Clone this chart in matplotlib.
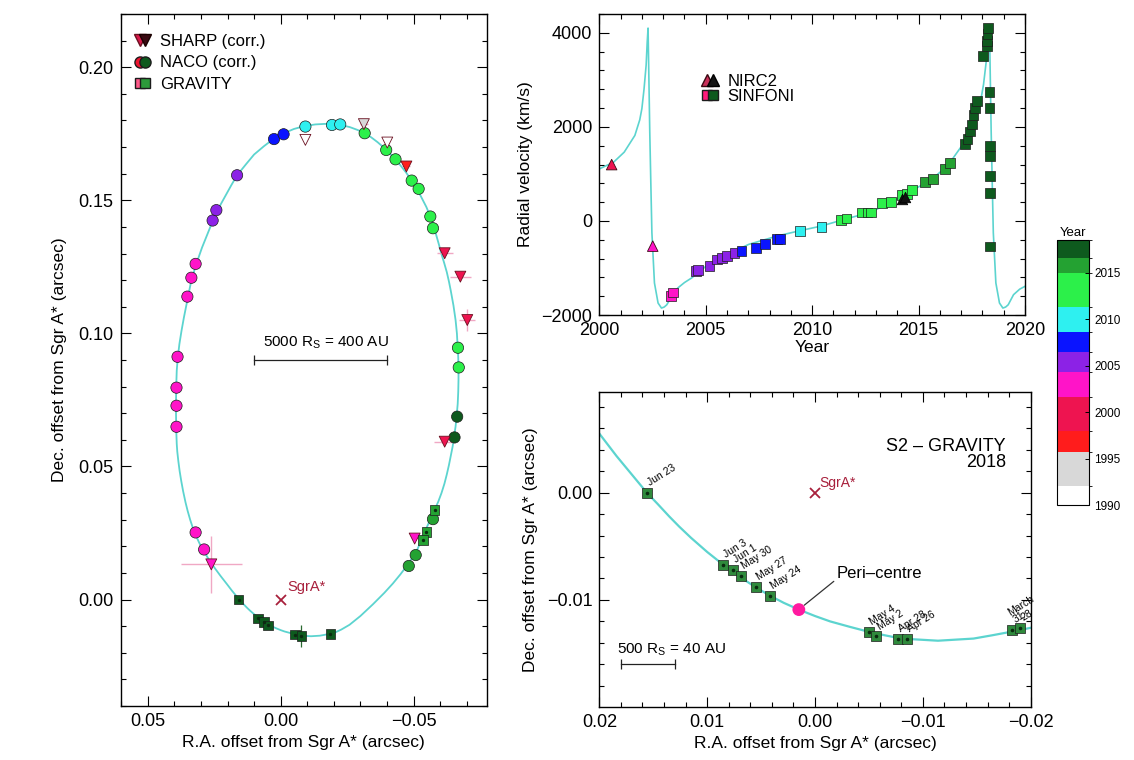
#!/usr/bin/env python3
"""S2 orbit around Sgr A*: sky orbit, radial velocity curve and 2018 GRAVITY zoom."""
import matplotlib
matplotlib.use("Agg")
import matplotlib.pyplot as plt
from matplotlib.colors import ListedColormap, BoundaryNorm
from matplotlib.cm import ScalarMappable
from matplotlib.legend_handler import HandlerTuple
from matplotlib.lines import Line2D
from matplotlib.ticker import MultipleLocator, FuncFormatter

plt.rcParams["font.family"] = ["Liberation Sans", "DejaVu Sans"]
plt.rcParams["mathtext.fontset"] = "custom"
plt.rcParams["mathtext.rm"] = "Liberation Sans"
plt.rcParams["axes.linewidth"] = 1.0

# ---------------- colour scale (year) ----------------
year_edges = [1990.0, 1992.0, 1995.7, 1998.0, 2001.6, 2004.3, 2006.5,
              2008.6, 2011.3, 2014.9, 2016.6, 2018.5]
year_colours = ["#ffffff", "#d8d8d8", "#ff1c1c", "#ee1450", "#ff14c8",
                "#8c22e6", "#0a14ff", "#2ef0f0", "#2cf04a", "#24a232", "#0e5a1e"]
cbar_ticks = [1990, 1995, 2000, 2005, 2010, 2015]

# ---------------- orbit model ----------------
orbit_ra = [0.0156, 0.0170, 0.0184, 0.0200, 0.0225, 0.0248, 0.0270, 0.0290,
            0.0305, 0.0317, 0.0330, 0.0340, 0.0350, 0.0358, 0.0367, 0.0374,
            0.0380, 0.0385, 0.0389, 0.0391, 0.0393, 0.0394, 0.0393, 0.0391,
            0.0387, 0.0381, 0.0373, 0.0364, 0.0354, 0.0345, 0.0336, 0.0323,
            0.0310, 0.0296, 0.0280, 0.0263, 0.0245, 0.0226, 0.0205, 0.0185,
            0.0164, 0.0130, 0.0100, 0.0062, 0.0025, -0.0012, -0.0050,
            -0.0090, -0.0130, -0.0165, -0.0200, -0.0230, -0.0260, -0.0290,
            -0.0316, -0.0340, -0.0365, -0.0397, -0.0425, -0.0450, -0.0472,
            -0.0493, -0.0513, -0.0530, -0.0548, -0.0563, -0.0575, -0.0585,
            -0.0595, -0.0604, -0.0615, -0.0625, -0.0633, -0.0640, -0.0650,
            -0.0658, -0.0663, -0.0666, -0.0668, -0.0669, -0.0669, -0.0668,
            -0.0666, -0.0662, -0.0658, -0.0652, -0.0647, -0.0640, -0.0633,
            -0.0625, -0.0616, -0.0605, -0.0593, -0.0579, -0.0565, -0.0550,
            -0.0533, -0.0515, -0.0496, -0.0475, -0.0450, -0.0422, -0.0390,
            -0.0347, -0.0300, -0.0259, -0.0228, -0.0200, -0.0180, -0.0164,
            -0.0147, -0.0130, -0.0114, -0.0097, -0.0080, -0.0065, -0.0051,
            -0.0032, -0.0014, 0.0000, 0.0015, 0.0029, 0.0042, 0.0055, 0.0069,
            0.0085, 0.0100, 0.0115, 0.0126, 0.0135, 0.0146, 0.0156]
orbit_dec = [0.0000, 0.0017, 0.0034, 0.0055, 0.0087, 0.0118, 0.0150, 0.0183,
             0.0210, 0.0236, 0.0268, 0.0298, 0.0333, 0.0365, 0.0407, 0.0445,
             0.0482, 0.0520, 0.0556, 0.0585, 0.0640, 0.0720, 0.0800, 0.0860,
             0.0910, 0.0960, 0.1010, 0.1060, 0.1110, 0.1155, 0.1200, 0.1242,
             0.1282, 0.1322, 0.1362, 0.1404, 0.1445, 0.1484, 0.1522, 0.1558,
             0.1594, 0.1636, 0.1672, 0.1704, 0.1732, 0.1752, 0.1768,
             0.1779, 0.1785, 0.1787, 0.1786, 0.1782, 0.1775, 0.1764,
             0.1752, 0.1737, 0.1718, 0.1690, 0.1661, 0.1632, 0.1604,
             0.1574, 0.1543, 0.1510, 0.1475, 0.1439, 0.1405, 0.1370,
             0.1335, 0.1301, 0.1265, 0.1230, 0.1195, 0.1160, 0.1105,
             0.1050, 0.1000, 0.0950, 0.0910, 0.0870, 0.0825, 0.0780,
             0.0735, 0.0690, 0.0650, 0.0610, 0.0575, 0.0540, 0.0505,
             0.0470, 0.0435, 0.0400, 0.0368, 0.0336, 0.0305, 0.0272,
             0.0230, 0.0190, 0.0158, 0.0127, 0.0094, 0.0060, 0.0025,
             -0.0018, -0.0062, -0.0095, -0.0113, -0.0126, -0.0130, -0.0133,
             -0.0136, -0.0137, -0.0138, -0.0137, -0.0136, -0.0133, -0.0130,
             -0.0125, -0.0120, -0.0115, -0.0109, -0.01027, -0.00959, -0.00882,
             -0.00790, -0.00673, -0.00553, -0.00421, -0.00316, -0.00224,
             -0.00105, 0.0000]

# ---------------- astrometry ----------------
naco_ra = [0.0320, 0.0288, 0.0392, 0.0392, 0.0392, 0.0388, 0.0351, 0.0336,
           0.0320, 0.0256, 0.0242, 0.0164, 0.0025, -0.0011, -0.0093, -0.0193,
           -0.0224, -0.0316, -0.0397, -0.0432, -0.0493, -0.0519, -0.0563,
           -0.0573, -0.0667, -0.0670, -0.0664, -0.0654, -0.0573, -0.0508,
           -0.0482]
naco_dec = [0.0252, 0.0188, 0.0649, 0.0728, 0.0796, 0.0912, 0.1138, 0.1209,
            0.1261, 0.1424, 0.1463, 0.1594, 0.1730, 0.1748, 0.1777, 0.1783,
            0.1785, 0.1752, 0.1689, 0.1654, 0.1574, 0.1543, 0.1439, 0.1395,
            0.0946, 0.0872, 0.0687, 0.0609, 0.0302, 0.0167, 0.0126]
naco_year = [2002.2, 2002.4, 2003.3, 2003.4, 2003.5, 2003.7, 2004.0, 2004.1,
             2004.2, 2005.2, 2005.3, 2006.2, 2007.2, 2007.5, 2009.2, 2010.2,
             2010.4, 2011.4, 2011.6, 2011.9, 2012.3, 2012.5, 2013.3, 2013.5,
             2014.5, 2014.7, 2017.0, 2017.2, 2015.5, 2015.6, 2015.7]

sharp_ra = [0.0261, -0.0093, -0.0313, -0.0401, -0.0473, -0.0617, -0.0676,
            -0.0702, -0.0617, -0.0504]
sharp_dec = [0.0132, 0.1727, 0.1786, 0.1717, 0.1627, 0.1301, 0.1213, 0.1050,
             0.0593, 0.0229]
sharp_year = [2002.0, 1990.5, 1993.0, 1991.0, 1996.5, 1998.5, 1999.0, 1999.5,
              2000.5, 2001.8]
sharp_xerr = [0.0115, 0.0, 0.0015, 0.0, 0.0015, 0.003, 0.004, 0.003, 0.004, 0.0]
sharp_yerr = [0.0107, 0.0, 0.0, 0.0, 0.0015, 0.0, 0.0, 0.004, 0.0, 0.0]

grav_ra = [0.0158, 0.0085, 0.0062, 0.0048, -0.0053, -0.0078, -0.0187,
           -0.0579, -0.0548, -0.0535]
grav_dec = [0.0000, -0.0071, -0.0084, -0.0097, -0.0132, -0.0137, -0.0130,
            0.0336, 0.0254, 0.0223]
grav_year = [2018.3, 2018.3, 2018.3, 2018.3, 2018.3, 2018.3, 2018.3,
             2015.8, 2015.8, 2015.8]
grav_yerr = [0.0, 0.0, 0.0, 0.0, 0.0, 0.004, 0.0, 0.0, 0.0, 0.0]

sgra_ra = [0.0]
sgra_dec = [0.0]

# 2018 GRAVITY epochs (lower right panel)
g18_ra = [0.0156, 0.0085, 0.0076, 0.00685, 0.00546, 0.0042, -0.0050,
          -0.0057, -0.0077, -0.0085, -0.0183, -0.0190]
g18_dec = [0.0000, -0.0067, -0.0072, -0.0078, -0.0088, -0.0096, -0.0130,
           -0.0134, -0.0136, -0.0136, -0.0128, -0.0126]
g18_label = ["Jun 23", "Jun 3", "Jun 1", "May 30", "May 27", "May 24",
             "May 4", "May 2", "Apr 28", "Apr 26", "March\n31", "28"]
peri_ra = [0.0015]
peri_dec = [-0.0109]

# scale bars
bar_big_ra = [0.010, -0.040]
bar_big_dec = [0.090, 0.090]
bar_small_ra = [0.0180, 0.0130]
bar_small_dec = [-0.0160, -0.0160]

# ---------------- radial velocity ----------------
rv_model_year = [2000.00, 2000.67, 2001.17, 2001.67, 2001.90, 2002.00, 2002.10,
                 2002.20, 2002.25, 2002.29, 2002.33, 2002.37, 2002.42, 2002.47,
                 2002.59, 2002.76, 2002.92, 2003.05, 2003.17, 2003.30, 2003.42,
                 2003.70, 2004.00, 2004.34, 2005.01, 2006.01, 2007.02, 2008.35,
                 2009.36, 2010.44, 2011.53, 2012.70, 2013.70, 2014.37, 2015.54,
                 2016.37, 2017.04, 2017.54, 2017.88, 2018.05, 2018.18, 2018.27,
                 2018.33, 2018.37, 2018.41, 2018.46, 2018.51, 2018.63, 2018.80,
                 2018.96, 2019.09, 2019.21, 2019.46, 2019.75, 2020.00]
rv_model_v = [1106, 1249, 1463, 1818, 2150, 2389, 2800,
              3315, 3800, 4100, 3000, 1890, 800, -248,
              -1318, -1745, -1852, -1830, -1782, -1680, -1568,
              -1420, -1310, -1211, -963, -712, -498, -321,
              -214, -107, 36, 180, 393, 571, 856,
              1176, 1604, 2032, 2460, 2900, 3400, 3900,
              4120, 3000, 1890, 800, -248, -1318, -1745,
              -1852, -1830, -1782, -1568, -1450, -1390]

nirc2_year = [2000.58, 2002.51]
nirc2_v = [1198, -535]
nirc2_black_year = [2014.22, 2014.36]
nirc2_black_v = [470, 515]

sinfoni_year = [2003.35, 2003.45, 2004.55, 2004.65, 2005.18, 2005.51, 2005.76,
                2006.00, 2006.35, 2006.68, 2007.35, 2007.77, 2008.35, 2008.50,
                2009.44, 2010.44, 2011.36, 2011.61, 2012.36, 2012.60, 2012.75,
                2013.28, 2013.70, 2014.21, 2014.44, 2014.68, 2015.30, 2015.69,
                2016.24, 2016.48, 2017.18, 2017.30, 2017.40, 2017.50, 2017.58,
                2017.65, 2017.73, 2018.04, 2018.20, 2018.22, 2018.24, 2018.25,
                2018.33, 2018.33, 2018.34, 2018.34, 2018.35, 2018.35, 2018.36]
sinfoni_v = [-1600, -1520, -1060, -1040, -963, -819, -783,
             -748, -690, -642, -569, -498, -376, -391,
             -214, -128, 21, 51, 180, 180, 180,
             379, 406, 543, 580, 650, 830, 900,
             1110, 1240, 1640, 1750, 1900, 2050, 2250,
             2400, 2550, 3504, 3717, 3823, 3966, 4109,
             2737, 2404, 1586, 1373, 947, 593, -543]

ORBIT_C = "#5cd4cf"
SGRA_C = "#a8203c"
EDGE_C = "#1c1c1c"

cmap = ListedColormap(year_colours)
norm = BoundaryNorm(year_edges, cmap.N)


def _fmt(decimals):
    def f(v, _pos):
        if abs(v) < 1e-12:
            v = 0.0
        return f"{v:.{decimals}f}".replace("-", "\u2212")
    return FuncFormatter(f)


def _ticks(ax, xmaj, xmin, ymaj, ymin):
    ax.xaxis.set_major_locator(MultipleLocator(xmaj))
    ax.xaxis.set_minor_locator(MultipleLocator(xmin))
    ax.yaxis.set_major_locator(MultipleLocator(ymaj))
    ax.yaxis.set_minor_locator(MultipleLocator(ymin))
    ax.tick_params(which="both", direction="in", top=True, right=True,
                   width=0.8, labelsize=13, pad=5)
    ax.tick_params(which="major", length=7)
    ax.tick_params(which="minor", length=3.5)


fig = plt.figure(figsize=(11.34, 7.60), dpi=100)

# ================= left: full orbit on the sky =================
ax = fig.add_axes([0.1064, 0.0711, 0.3230, 0.9105])
ax.plot(orbit_ra, orbit_dec, color=ORBIT_C, lw=1.3, zorder=1)
ax.errorbar(sharp_ra, sharp_dec, xerr=sharp_xerr, yerr=sharp_yerr, fmt="none",
            ecolor="#f0a8c4", elinewidth=1.0, zorder=2)
ax.errorbar(grav_ra, grav_dec, yerr=grav_yerr, fmt="none", ecolor="#2a6a30",
            elinewidth=0.9, zorder=2)
ax.scatter(naco_ra, naco_dec, c=naco_year, cmap=cmap, norm=norm, marker="o",
           s=66, edgecolors=EDGE_C, linewidths=0.5, zorder=3)
ax.scatter(sharp_ra, sharp_dec, c=sharp_year, cmap=cmap, norm=norm, marker="v",
           s=62, edgecolors="#6a1020", linewidths=0.6, zorder=4)
ax.scatter(grav_ra, grav_dec, c=grav_year, cmap=cmap, norm=norm, marker="s",
           s=48, edgecolors=EDGE_C, linewidths=0.5, zorder=4)
ax.scatter(grav_ra, grav_dec, c="#0b2a10", marker=".", s=8, zorder=5)
ax.plot(sgra_ra, sgra_dec, ls="none", marker="x", ms=7, mew=1.3, color=SGRA_C,
        zorder=5)
ax.annotate("SgrA*", (sgra_ra[0], sgra_dec[0]), xytext=(5, 4),
            textcoords="offset points", color=SGRA_C, fontsize=10.5,
            ha="left", va="bottom")
ax.plot(bar_big_ra, bar_big_dec, color="#222222", lw=0.9, marker="|", ms=7,
        mew=0.9)
ax.text(sum(bar_big_ra) / 2 - 0.002, bar_big_dec[0] + 0.0035,
        r"5000 R$_{\rm S}$ = 400 AU", ha="center", va="bottom", fontsize=11)
ax.set_xlim(0.0602, -0.0776)
ax.set_ylim(-0.040, 0.220)
_ticks(ax, 0.05, 0.01, 0.05, 0.01)
ax.xaxis.set_major_formatter(_fmt(2))
ax.yaxis.set_major_formatter(_fmt(2))
ax.set_xlabel("R.A. offset from Sgr A* (arcsec)", fontsize=12.5, labelpad=4)
ax.set_ylabel("Dec. offset from Sgr A* (arcsec)", fontsize=12.5, labelpad=8)

h_sharp = (Line2D([], [], ls="none", marker="v", ms=8, mfc="#d8184a", mec="#6a1020"),
           Line2D([], [], ls="none", marker="v", ms=8, mfc="#3a0a12", mec="#1a0000"))
h_naco = (Line2D([], [], ls="none", marker="o", ms=8, mfc="#ee1430", mec=EDGE_C),
          Line2D([], [], ls="none", marker="o", ms=8, mfc="#0e5a1e", mec=EDGE_C))
h_grav = (Line2D([], [], ls="none", marker="s", ms=7, mfc="#ff5a8a", mec=EDGE_C),
          Line2D([], [], ls="none", marker="s", ms=7, mfc="#2c9a3a", mec=EDGE_C))
ax.legend([h_sharp, h_naco, h_grav], ["SHARP (corr.)", "NACO (corr.)", "GRAVITY"],
          handler_map={tuple: HandlerTuple(ndivide=None, pad=-0.6)},
          loc="upper left", bbox_to_anchor=(0.03, 0.971), frameon=False,
          fontsize=12, handlelength=1.3, handletextpad=0.4, labelspacing=0.38,
          borderpad=0, borderaxespad=0)

# ================= top right: radial velocity =================
axv = fig.add_axes([0.5285, 0.5855, 0.3754, 0.3961])
axv.plot(rv_model_year, rv_model_v, color=ORBIT_C, lw=1.2, zorder=1)
axv.scatter(sinfoni_year, sinfoni_v, c=sinfoni_year, cmap=cmap, norm=norm,
            marker="s", s=50, edgecolors=EDGE_C, linewidths=0.5, zorder=3)
axv.scatter(nirc2_year, nirc2_v, c=nirc2_year, cmap=cmap, norm=norm, marker="^",
            s=58, edgecolors="#3a0a12", linewidths=0.6, zorder=4)
axv.scatter(nirc2_black_year, nirc2_black_v, c="#111111", marker="^", s=58,
            edgecolors="#000000", linewidths=0.5, zorder=4)
axv.set_xlim(2000, 2020)
axv.set_ylim(-2000, 4400)
_ticks(axv, 5, 1, 2000, 400)
axv.xaxis.set_major_formatter(_fmt(0))
axv.yaxis.set_major_formatter(_fmt(0))
axv.set_xlabel("Year", fontsize=12.5, labelpad=1)
axv.set_ylabel("Radial velocity (km/s)", fontsize=12.5, labelpad=6)
h_nirc2 = (Line2D([], [], ls="none", marker="^", ms=8, mfc="#c8305a", mec="#3a0a12"),
           Line2D([], [], ls="none", marker="^", ms=8, mfc="#151515", mec="#000000"))
h_sinf = (Line2D([], [], ls="none", marker="s", ms=7.5, mfc="#ff1a7a", mec=EDGE_C),
          Line2D([], [], ls="none", marker="s", ms=7.5, mfc="#0e5a1e", mec=EDGE_C))
axv.legend([h_nirc2, h_sinf], ["NIRC2", "SINFONI"],
           handler_map={tuple: HandlerTuple(ndivide=None, pad=-0.6)},
           loc="upper left", bbox_to_anchor=(0.235, 0.80), frameon=False,
           fontsize=12, handlelength=1.3, handletextpad=0.4, labelspacing=0.0,
           borderpad=0, borderaxespad=0)

# ================= bottom right: 2018 pericentre passage =================
axz = fig.add_axes([0.5285, 0.0701, 0.3804, 0.4145])
axz.plot(orbit_ra, orbit_dec, color=ORBIT_C, lw=1.6, zorder=1)
axz.scatter(g18_ra, g18_dec, c="#2f8a3c", marker="s", s=50,
            edgecolors=EDGE_C, linewidths=0.5, zorder=3)
axz.scatter(g18_ra, g18_dec, c="#0b2a10", marker=".", s=10, zorder=4)
for ra, dec, lab in zip(g18_ra, g18_dec, g18_label):
    axz.annotate(lab, (ra, dec), xytext=(3, 3.5), textcoords="offset points",
                 fontsize=7.5, rotation=32, rotation_mode="anchor",
                 ha="left", va="bottom", linespacing=0.9)
axz.scatter(peri_ra, peri_dec, c="#ff1aa0", marker="o", s=85, zorder=5,
            edgecolors="none")
axz.annotate("Peri\u2013centre", (peri_ra[0], peri_dec[0]),
             xytext=(-0.0020, -0.0075), textcoords="data", fontsize=12,
             ha="left", va="center",
             arrowprops=dict(arrowstyle="-", color="#333333", lw=0.9,
                             shrinkA=0, shrinkB=5, relpos=(0.0, 0.1)))
axz.plot(sgra_ra, sgra_dec, ls="none", marker="x", ms=7, mew=1.3, color=SGRA_C,
         zorder=5)
axz.annotate("SgrA*", (sgra_ra[0], sgra_dec[0]), xytext=(3, 2),
             textcoords="offset points", color=SGRA_C, fontsize=10,
             ha="left", va="bottom")
axz.plot(bar_small_ra, bar_small_dec, color="#222222", lw=0.9, marker="|",
         ms=7, mew=0.9)
axz.text(bar_small_ra[0] + 0.0004, bar_small_dec[0] + 0.0006,
         r"500 R$_{\rm S}$ = 40 AU", ha="left", va="bottom", fontsize=11)
axz.text(0.943, 0.80, "S2 \u2013 GRAVITY\n2018", transform=axz.transAxes,
         ha="right", va="center", multialignment="right", fontsize=13,
         linespacing=0.95)
axz.set_xlim(0.02, -0.02)
axz.set_ylim(-0.01995, 0.0094)
_ticks(axz, 0.01, 0.002, 0.01, 0.002)
axz.xaxis.set_major_formatter(_fmt(2))
axz.yaxis.set_major_formatter(_fmt(2))
axz.set_xlabel("R.A. offset from Sgr A* (arcsec)", fontsize=12.5, labelpad=4)
axz.set_ylabel("Dec. offset from Sgr A* (arcsec)", fontsize=12.5, labelpad=6)

# ================= colour bar =================
cax = fig.add_axes([0.9318, 0.3355, 0.0287, 0.3487])
cb = fig.colorbar(ScalarMappable(norm=norm, cmap=cmap), cax=cax,
                  spacing="proportional", ticks=cbar_ticks)
cb.outline.set_linewidth(0.8)
cax.tick_params(labelsize=8.5, direction="in", length=3, width=0.7)
cax.set_title("Year", fontsize=9.5, pad=3)

fig.savefig("out.png", dpi=100, facecolor="white")
